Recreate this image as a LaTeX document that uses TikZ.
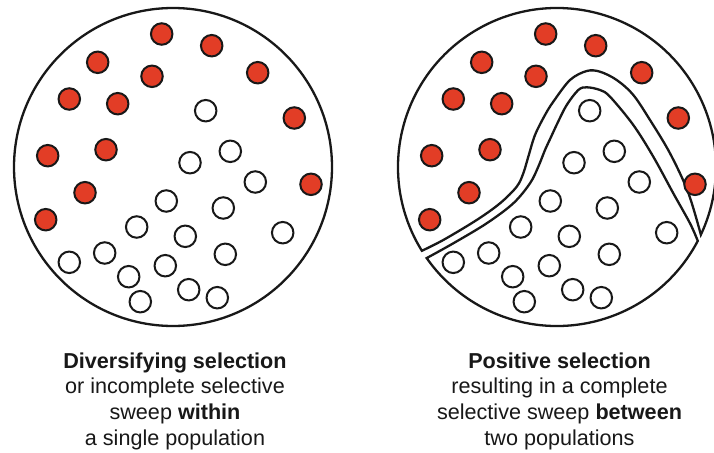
\documentclass[tikz,border=0pt]{standalone}
\usepackage{fontspec}
\setmainfont{Liberation Sans}
\definecolor{dotred}{RGB}{226,61,38}
\definecolor{ink}{RGB}{24,24,24}
\begin{document}
\begin{tikzpicture}[x=1pt,y=1pt,yscale=-1,
  reddot/.style={circle,draw=ink,fill=dotred,line width=2pt,minimum size=21.5pt,inner sep=0pt},
  whitedot/.style={circle,draw=ink,fill=white,line width=2pt,minimum size=21.5pt,inner sep=0pt},
  bigring/.style={circle,draw=ink,line width=2.3pt,minimum size=318pt,inner sep=0pt},
  wall/.style={draw=ink,line width=2.3pt,line join=miter},
  lbl/.style={anchor=base,font=\fontsize{21.6}{26}\selectfont,text=ink,inner sep=0pt}]
\useasboundingbox (0,0) rectangle (714,452);
\fill[white] (0,0) rectangle (714,452);

% left population
\node[bigring] (L) at (173,167) {};
\foreach \px/\py [count=\i] in {161.7/34,211.7/45.7,97.7/62.3,152/76.3,257.7/72.7,69.3/99,117.7/103.7,294.3/118,47.7/155.7,106/149.7,85/192.7,311/184.3,45.7/219.7}
  \node[reddot] (lr\i) at (\px,\py) {};
\foreach \px/\py [count=\i] in {205.7/110.7,230.3/151.3,190/162.7,255.3/182,166.3/201,223.3/208,136.7/227,185.3/236.3,282.7/232.7,69.3/262.3,104.7/253,225.3/254.3,128.7/276.7,165.3/265.7,188.7/289.7,140.3/301.7,217.3/297.7}
  \node[whitedot] (lw\i) at (\px,\py) {};

% right population, split in two
\coordinate (C) at (557,167);
\path (C) ++(148.2:159) coordinate (UL);
\path (C) ++(25.2:159) coordinate (UR);
\path (C) ++(145.05:159) coordinate (LL);
\path (C) ++(27.7:159) coordinate (LR);

\path[wall] (UL) arc[start angle=148.2,end angle=385.2,radius=159]
  -- plot[smooth,tension=0.55] coordinates {(UR) (688,192) (670,153.3) (650,120) (633.3,95) (616.7,80) (600,71.7) (586.7,71) (570,80) (553.3,101.7) (545,115) (535,135) (528.3,156.7) (523.3,173.3) (516.7,186.7) (500,203.3) (476.7,220) (443.3,240) (UL)}
  -- cycle;

\path[wall] (LR) arc[start angle=27.7,end angle=145.05,radius=159]
  -- plot[smooth,tension=0.55] coordinates {(LL) (453.3,243.3) (486.7,223.3) (513.3,203.3) (530,183.3) (538.3,166.7) (545,150) (551,137) (558,122) (566.7,105) (578.3,90) (586.7,87.3) (600,90) (610,96.7) (633.3,125) (653.3,156.7) (673.3,193.3) (690,223.3) (LR)}
  -- cycle;

\foreach \px/\py [count=\i] in {161.7/34,211.7/45.7,97.7/62.3,152/76.3,257.7/72.7,69.3/99,117.7/103.7,294.3/118,47.7/155.7,106/149.7,85/192.7,311/184.3,45.7/219.7}
  \node[reddot] (rr\i) at (\px+384,\py) {};
\foreach \px/\py [count=\i] in {205.7/110.7,230.3/151.3,190/162.7,255.3/182,166.3/201,223.3/208,136.7/227,185.3/236.3,282.7/232.7,69.3/262.3,104.7/253,225.3/254.3,128.7/276.7,165.3/265.7,188.7/289.7,140.3/301.7,217.3/297.7}
  \node[whitedot] (rw\i) at (\px+384,\py) {};

% captions
\node[lbl] (t1) at (175,368.3) {\textbf{Diversifying selection}};
\node[lbl] (t2) at (175,393.6) {or incomplete selective};
\node[lbl] (t3) at (175,419.2) {sweep \textbf{within}};
\node[lbl] (t4) at (175,445.2) {a single population};
\node[lbl] (s1) at (559.5,368.3) {\textbf{Positive selection}};
\node[lbl] (s2) at (559.5,393.6) {resulting in a complete};
\node[lbl] (s3) at (559.5,419.2) {selective sweep \textbf{between}};
\node[lbl] (s4) at (559.5,445.2) {two populations};
\end{tikzpicture}
\end{document}
